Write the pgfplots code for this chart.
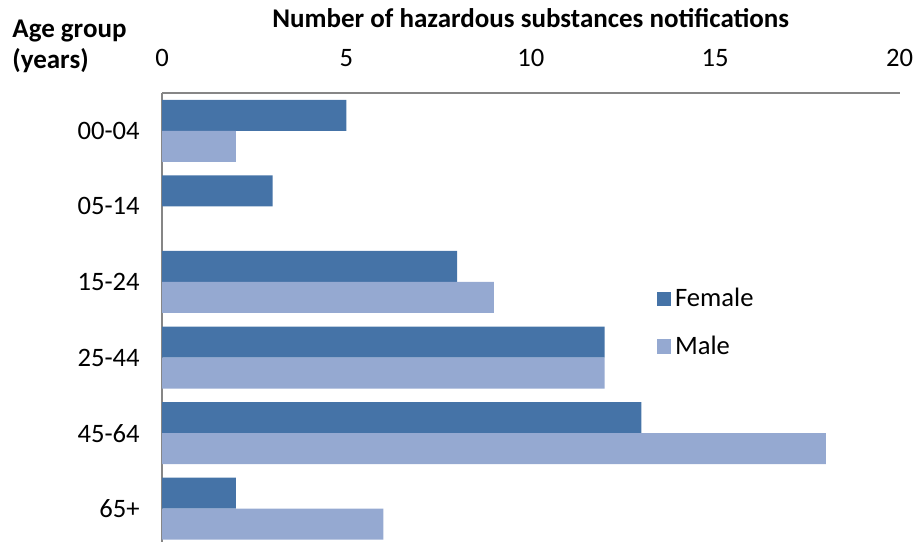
\documentclass[border=0pt]{standalone}
\usepackage{pgfplots}
\pgfplotsset{compat=1.18}
\usepackage{fontspec}
\setmainfont{Carlito}
\definecolor{fem}{HTML}{4573A7}
\definecolor{mal}{HTML}{95A9D1}
\definecolor{axgray}{HTML}{868686}
\begin{document}
\begin{tikzpicture}
\useasboundingbox (0,0) rectangle (457.5bp,271bp);
\begin{axis}[
 name=ax,
 at={(81bp,0bp)}, anchor=south west,
 width=368.75bp, height=224.5bp, scale only axis,
 xbar, bar width=0.41,
 xmin=0, xmax=20, ymin=-0.44, ymax=5.5,
 axis x line*=top, axis y line*=left,
 axis line style={axgray, line width=0.9bp},
 major tick length=0pt,
 xtick={0,5,10,15,20},
 ytick={0,1,2,3,4,5},
 yticklabels={65+,45-64,25-44,15-24,05-14,00-04},
 /pgf/number format/assume math mode=true,
 tick label style={font=\fontsize{13.3bp}{16bp}\selectfont, text=black},
 xticklabel style={anchor=base, yshift=13bp, inner sep=0pt},
 yticklabel style={anchor=east, xshift=-11bp, inner sep=0pt},
 legend style={at={(0.67,0.488)}, anchor=west, draw=none, fill=none,
   font=\fontsize{13.3bp}{16bp}\selectfont, row sep=9bp, inner sep=0pt,
   /tikz/every even column/.append style={column sep=3bp}},
 legend cell align=left,
 legend image code/.code={\fill[#1] (0bp,-3.65bp) rectangle (7.3bp,3.65bp);},
 clip=false,
]
\addplot[draw=none, fill=fem, bar shift=0.205] coordinates {(5,5) (3,4) (8,3) (12,2) (13,1) (2,0)};
\addlegendentry{Female}
\addplot[draw=none, fill=mal, bar shift=-0.205] coordinates {(2,5) (9,3) (12,2) (18,1) (6,0)};
\addlegendentry{Male}
\end{axis}
\node[anchor=base, font=\fontsize{13.5bp}{16bp}\selectfont\bfseries] at ([yshift=32.5bp]ax.north) {Number of hazardous substances notifications};
\node[anchor=base west, inner sep=0pt, font=\fontsize{13.5bp}{16bp}\selectfont\bfseries] at (6bp,252.3bp) {Age group};
\node[anchor=base west, inner sep=0pt, font=\fontsize{13.5bp}{16bp}\selectfont\bfseries] at (6bp,236.8bp) {(years)};
\end{tikzpicture}
\end{document}
